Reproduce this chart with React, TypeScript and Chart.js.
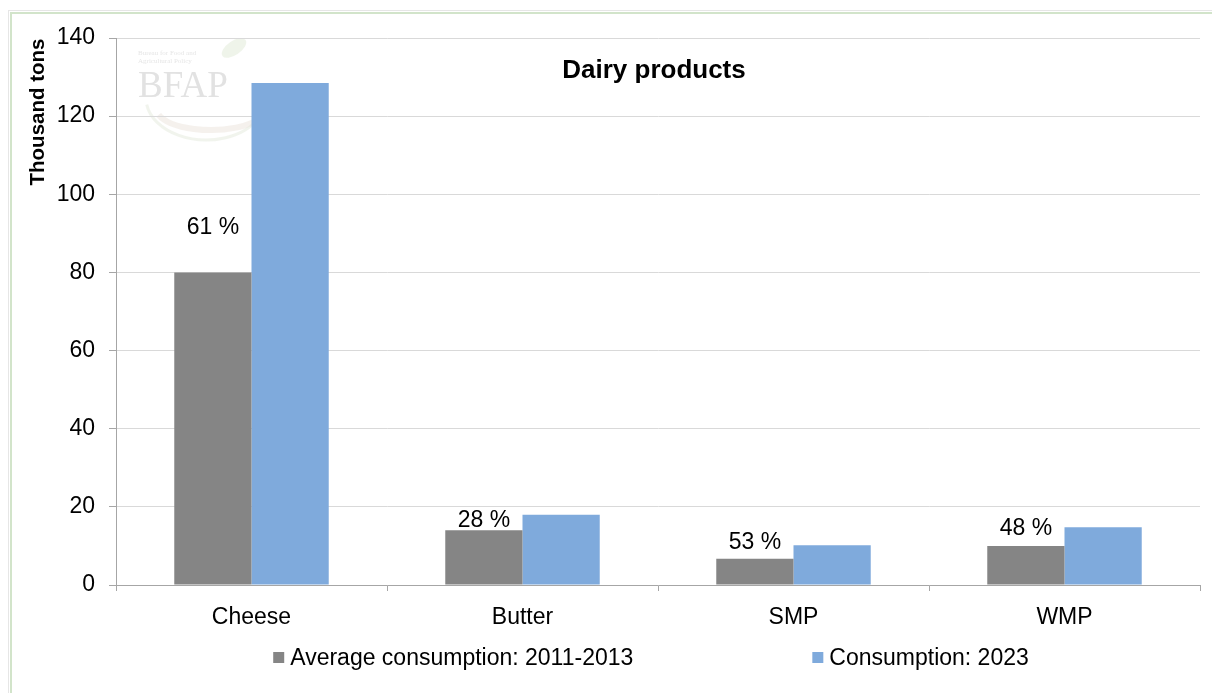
import React, { useEffect, useRef } from "react";
import { Chart, registerables } from "chart.js";

Chart.register(...registerables);

const categories = ["Cheese", "Butter", "SMP", "WMP"];
const avgConsumption20112013 = [80, 14, 6.7, 10];
const consumption2023 = [128.5, 18, 10.2, 14.8];
const growthLabels = ["61 %", "28 %", "53 %", "48 %"];
const seriesNames = ["Average consumption: 2011-2013", "Consumption: 2023"];
const yMin = 0;
const yMax = 140;
const yStep = 20;
const chartTitle = "Dairy products";
const yAxisTitle = "Thousand tons";

const FONT = "'Liberation Sans', Arial, sans-serif";
const GRAY = "#858585";
const BLUE = "#7faadc";

const backgroundPlugin = {
  id: "bgFrame",
  beforeDraw(chart: any) {
    const ctx = chart.ctx;
    ctx.save();
    ctx.fillStyle = "#ffffff";
    ctx.fillRect(0, 0, chart.width, chart.height);
    ctx.strokeStyle = "#e6e6e6";
    ctx.lineWidth = 1;
    ctx.strokeRect(8.5, 10.5, chart.width + 20, chart.height + 20);
    ctx.strokeStyle = "#d2e4ca";
    ctx.lineWidth = 2;
    ctx.strokeRect(11, 13, chart.width + 20, chart.height + 20);

    // faint watermark logo
    const a = chart.chartArea;
    const lx = a.left + 20;
    const ly = a.top;
    ctx.globalAlpha = 0.5;
    ctx.strokeStyle = "#e3eadb";
    ctx.lineWidth = 3;
    ctx.beginPath();
    ctx.ellipse(lx + 70, ly + 60, 60, 42, 0, 0.15 * Math.PI, 0.95 * Math.PI);
    ctx.stroke();
    ctx.strokeStyle = "#ece4dc";
    ctx.lineWidth = 6;
    ctx.beginPath();
    ctx.ellipse(lx + 75, ly + 70, 55, 22, 0, 0.1 * Math.PI, 0.9 * Math.PI);
    ctx.stroke();
    ctx.fillStyle = "#dfe9d6";
    ctx.beginPath();
    ctx.ellipse(lx + 98, ly + 10, 14, 7, -0.6, 0, Math.PI * 2);
    ctx.fill();
    ctx.globalAlpha = 1;
    ctx.fillStyle = "#e2e2e2";
    ctx.font = `37px 'Liberation Serif', 'DejaVu Serif', serif`;
    ctx.textAlign = "left";
    ctx.textBaseline = "alphabetic";
    ctx.fillText("BFAP", lx + 2, ly + 59);
    ctx.font = `7px 'Liberation Serif', serif`;
    ctx.fillStyle = "#e6e6e6";
    ctx.fillText("Bureau for Food and", lx + 2, ly + 17);
    ctx.fillText("Agricultural Policy", lx + 2, ly + 25);
    ctx.restore();
  },
};

const overlayPlugin = {
  id: "overlay",
  afterDraw(chart: any) {
    const ctx = chart.ctx;
    const a = chart.chartArea;
    ctx.save();
    // title
    ctx.fillStyle = "#000";
    ctx.font = `bold 26px ${FONT}`;
    ctx.textAlign = "center";
    ctx.textBaseline = "middle";
    ctx.fillText(chartTitle, (a.left + a.right) / 2 - 4, a.top + 33);

    // y axis title
    ctx.save();
    ctx.translate(38, a.top + 74);
    ctx.rotate(-Math.PI / 2);
    ctx.font = `bold 20.5px ${FONT}`;
    ctx.textAlign = "center";
    ctx.textBaseline = "middle";
    ctx.fillText(yAxisTitle, 0, 0);
    ctx.restore();

    // growth labels above the first series bars
    const meta = chart.getDatasetMeta(0);
    const offsets = [45, 10, 16, 17];
    ctx.font = `23px ${FONT}`;
    ctx.textAlign = "center";
    ctx.textBaseline = "middle";
    meta.data.forEach((bar: any, i: number) => {
      ctx.fillText(growthLabels[i], bar.x, bar.y - offsets[i]);
    });

    // legend
    ctx.font = `23px ${FONT}`;
    ctx.textBaseline = "middle";
    ctx.textAlign = "left";
    const box = 11;
    const gap = 6;
    const itemGap = 179;
    const colors = [GRAY, BLUE];
    const widths = seriesNames.map((n) => box + gap + ctx.measureText(n).width);
    const total = widths[0] + widths[1] + itemGap;
    let x = (a.left + a.right) / 2 - 7 - total / 2;
    const y = 658;
    seriesNames.forEach((n, i) => {
      ctx.fillStyle = colors[i];
      ctx.fillRect(x, y - 6, box, box);
      ctx.fillStyle = "#000";
      ctx.fillText(n, x + box + gap, y + 1);
      x += widths[i] + itemGap;
    });
    ctx.restore();
  },
};

export default function App() {
  const ref = useRef<HTMLCanvasElement | null>(null);
  useEffect(() => {
    if (!ref.current) return;
    const chart = new Chart(ref.current, {
      type: "bar",
      data: {
        labels: categories,
        datasets: [
          {
            label: seriesNames[0],
            data: avgConsumption20112013,
            backgroundColor: GRAY,
            barPercentage: 1,
            categoryPercentage: 0.57,
          },
          {
            label: seriesNames[1],
            data: consumption2023,
            backgroundColor: BLUE,
            barPercentage: 1,
            categoryPercentage: 0.57,
          },
        ],
      },
      options: {
        responsive: false,
        animation: false,
        devicePixelRatio: 1,
        layout: { padding: { top: 38, right: 12, left: 0, bottom: 0 } },
        plugins: {
          legend: { display: false },
          title: { display: false },
          tooltip: { enabled: false },
        },
        scales: {
          x: {
            afterFit(scale: any) {
              scale.height = 108;
            },
            grid: {
              display: true,
              drawOnChartArea: false,
              drawTicks: true,
              tickLength: 6,
              tickColor: "#a6a6a6",
              offset: true,
            },
            border: { color: "#a6a6a6", width: 1 },
            ticks: {
              color: "#000",
              font: { family: FONT, size: 23 },
              padding: 13,
            },
          },
          y: {
            min: yMin,
            max: yMax,
            afterFit(scale: any) {
              scale.width = 116;
            },
            ticks: {
              stepSize: yStep,
              color: "#000",
              font: { family: FONT, size: 23 },
              padding: 14,
            },
            grid: {
              color: "#d9d9d9",
              tickColor: "#a6a6a6",
              tickLength: 7,
              drawTicks: true,
            },
            border: { color: "#a6a6a6", width: 1 },
          },
        },
      },
      plugins: [backgroundPlugin, overlayPlugin],
    });
    return () => chart.destroy();
  }, []);
  return (
    <div style={{ position: "absolute", left: 0, top: 0, width: 1212, height: 693 }}>
      <canvas ref={ref} width={1212} height={693} style={{ display: "block" }} />
    </div>
  );
}
